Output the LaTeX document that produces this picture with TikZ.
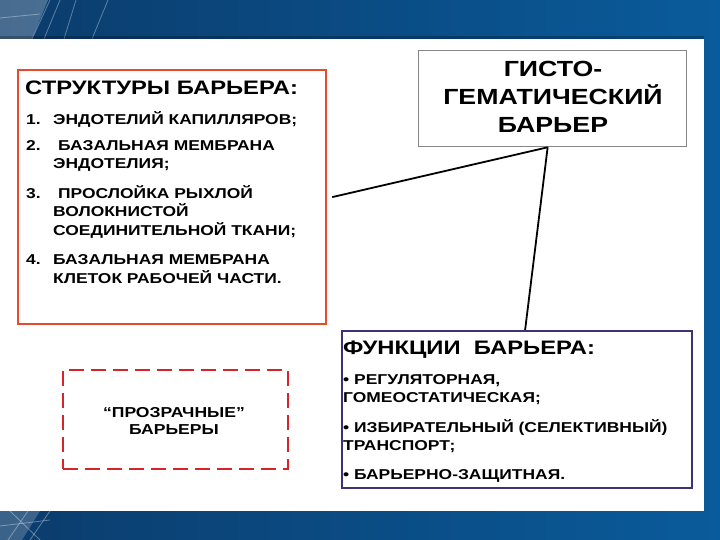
\documentclass[tikz,border=0pt]{standalone}
\usepackage{fontspec}
\setmainfont{Liberation Sans}
\newfontfamily\fA{Liberation Sans}[FakeStretch=1.22]
\definecolor{bgL}{HTML}{0B3C6C}
\definecolor{bgR}{HTML}{0A5B9B}
\definecolor{redb}{HTML}{E84A2E}
\definecolor{dredb}{HTML}{D8232A}
\definecolor{purb}{HTML}{3E3178}
\definecolor{grayb}{HTML}{858585}
\tikzset{
  boxplain/.style={draw, inner sep=0pt, anchor=north west},
  txt/.style={anchor=base west, inner sep=0pt, text=black},
  ctxt/.style={anchor=base, inner sep=0pt, text=black},
  titleA/.style={font=\fA\bfseries\fontsize{19.5}{22}\selectfont},
  itemA/.style={font=\fA\bfseries\fontsize{14.3}{16}\selectfont},
  gistoF/.style={font=\fA\bfseries\fontsize{21.9}{25}\selectfont},
  transpF/.style={font=\fA\bfseries\fontsize{14.4}{17}\selectfont},
  conn/.style={draw=black, line width=1.8pt},
  deco/.style={draw=white, line width=0.8pt, opacity=0.35}
}
\begin{document}
\begin{tikzpicture}[x=1pt,y=-1pt]
\useasboundingbox (0,0) rectangle (720,540);
% background
\shade[left color=bgL, right color=bgR] (0,0) rectangle (720,540);
\fill[white, opacity=0.25] (0,0) -- (48,0) -- (32,39) -- (0,39) -- cycle;
\fill[white, opacity=0.2] (0,511) -- (40,511) -- (22,540) -- (0,540) -- cycle;
\draw[deco] (50,0) -- (32,39);
\draw[deco] (60,0) -- (44,39);
\draw[deco] (76,0) -- (64,39);
\draw[deco] (108,0) -- (92,39);
\draw[deco] (0,18) -- (40,14);
\draw[deco] (10,511) -- (40,540);
\draw[deco] (28,511) -- (8,540);
\draw[deco] (50,511) -- (30,540);
\draw[deco] (0,526) -- (50,520);
\fill[black, opacity=0.25] (0,36) rectangle (704,39);
% white panel
\fill[white] (0,39) rectangle (704,511);

% boxes
\node[boxplain, draw=redb, line width=2.2pt, minimum width=308pt, minimum height=254pt] (struct) at (17,69) {};
\node[boxplain, draw=grayb, line width=1.3pt, minimum width=268pt, minimum height=96pt] (gisto) at (418,50) {};
\node[boxplain, draw=purb, line width=2.2pt, minimum width=350pt, minimum height=157pt] (func) at (341,330) {};
\node[boxplain, draw=dredb, line width=2.4pt, dash pattern=on 15pt off 7pt, minimum width=225pt, minimum height=99pt] (transp) at (62,369) {};

% connectors
\draw[conn] ([xshift=5pt]struct.east) -- ([xshift=-5pt]gisto.south);
\draw[conn] ([xshift=-5pt]gisto.south) -- ([xshift=8pt]func.north);

% structure text
\node[txt, titleA] (s0) at (25,95) {СТРУКТУРЫ БАРЬЕРА:};
\node[txt, itemA] (s1n) at (26,124.5) {1.};
\node[txt, itemA] (s1) at (53,124.5) {ЭНДОТЕЛИЙ КАПИЛЛЯРОВ;};
\node[txt, itemA] (s2n) at (26,151) {2.};
\node[txt, itemA] (s2) at (58,151) {БАЗАЛЬНАЯ МЕМБРАНА};
\node[txt, itemA] (s2b) at (53,169) {ЭНДОТЕЛИЯ;};
\node[txt, itemA] (s3n) at (26,199) {3.};
\node[txt, itemA] (s3) at (58,199) {ПРОСЛОЙКА РЫХЛОЙ};
\node[txt, itemA] (s3b) at (53,217) {ВОЛОКНИСТОЙ};
\node[txt, itemA] (s3c) at (53,236) {СОЕДИНИТЕЛЬНОЙ ТКАНИ;};
\node[txt, itemA] (s4n) at (26,264.5) {4.};
\node[txt, itemA] (s4) at (53,264.5) {БАЗАЛЬНАЯ МЕМБРАНА};
\node[txt, itemA] (s4b) at (53,283.5) {КЛЕТОК РАБОЧЕЙ ЧАСТИ.};

% gisto text
\node[ctxt, gistoF] (g1) at (553,77) {ГИСТО-};
\node[ctxt, gistoF] (g2) at (553,105) {ГЕМАТИЧЕСКИЙ};
\node[ctxt, gistoF] (g3) at (553,133) {БАРЬЕР};

% functions text
\node[txt, titleA] (f0) at (343,354) {ФУНКЦИИ\ \ БАРЬЕРА:};
\node[txt, itemA] (f1) at (343,384) {•\ РЕГУЛЯТОРНАЯ,};
\node[txt, itemA] (f1b) at (343,402) {ГОМЕОСТАТИЧЕСКАЯ;};
\node[txt, itemA] (f2) at (343,432) {•\ ИЗБИРАТЕЛЬНЫЙ (СЕЛЕКТИВНЫЙ)};
\node[txt, itemA] (f2b) at (343,450) {ТРАНСПОРТ;};
\node[txt, itemA] (f3) at (343,479) {•\ БАРЬЕРНО-ЗАЩИТНАЯ.};

% transparent barriers text
\node[ctxt, transpF] (t1) at (174,417) {“ПРОЗРАЧНЫЕ”};
\node[ctxt, transpF] (t2) at (174,434.5) {БАРЬЕРЫ};
\end{tikzpicture}
\end{document}
